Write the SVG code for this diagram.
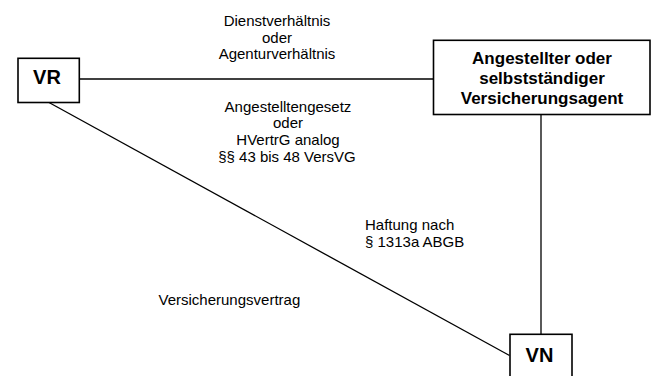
<svg xmlns="http://www.w3.org/2000/svg" width="654" height="376" viewBox="0 0 654 376">
<style>
.box{fill:#fff;stroke:#000;stroke-width:1.6}
.con{stroke:#000;stroke-width:1.3;fill:none}
.lbl{font-family:"Liberation Sans",Arial,sans-serif;font-size:15px;fill:#000}
.nb{font-family:"Liberation Sans",Arial,sans-serif;font-weight:bold;fill:#000;text-anchor:middle}
</style>
<rect width="654" height="376" fill="#fff"/>
<g id="connectors">
<line class="con" x1="79" y1="79" x2="433" y2="79"/>
<line class="con" x1="49" y1="102.5" x2="509.5" y2="355.5"/>
<line class="con" x1="541" y1="114.5" x2="541" y2="334"/>
</g>
<g id="labels">
<text class="lbl" text-anchor="middle" x="277" y="26">Dienstverhältnis</text>
<text class="lbl" text-anchor="middle" x="277" y="42.7">oder</text>
<text class="lbl" text-anchor="middle" x="277" y="59.4">Agenturverhältnis</text>
<text class="lbl" text-anchor="middle" x="288" y="111.7">Angestelltengesetz</text>
<text class="lbl" text-anchor="middle" x="288" y="128.3">oder</text>
<text class="lbl" text-anchor="middle" x="288" y="145">HVertrG analog</text>
<text class="lbl" text-anchor="middle" x="287" y="161.6">§§ 43 bis 48 VersVG</text>
<text class="lbl" x="365" y="230">Haftung nach</text>
<text class="lbl" x="365" y="246.5">§ 1313a ABGB</text>
<text class="lbl" x="158.5" y="305">Versicherungsvertrag</text>
</g>
<g id="VR">
<rect class="box" x="18" y="58.3" width="61.3" height="44.2"/>
<text class="nb" x="47" y="84.3" font-size="20">VR</text>
</g>
<g id="Agent">
<rect class="box" x="433.5" y="40.3" width="216.5" height="74.2"/>
<text class="nb" x="542" y="63.5" font-size="17">Angestellter oder</text>
<text class="nb" x="542" y="84" font-size="17">selbstständiger</text>
<text class="nb" x="542" y="103.5" font-size="17">Versicherungsagent</text>
</g>
<g id="VN">
<rect class="box" x="510" y="334.3" width="62" height="50"/>
<text class="nb" x="539.5" y="361.7" font-size="20">VN</text>
</g>
</svg>
